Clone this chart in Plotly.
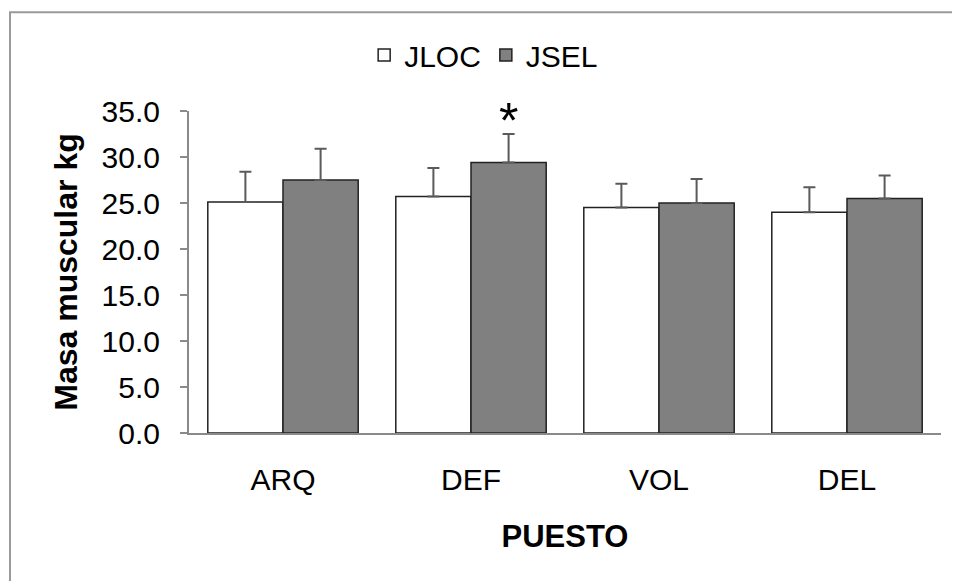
import plotly.graph_objects as go

categories = ["ARQ", "DEF", "VOL", "DEL"]
jloc_values = [25.1, 25.7, 24.5, 24.0]
jloc_errors = [3.3, 3.1, 2.6, 2.7]
jsel_values = [27.5, 29.4, 25.0, 25.5]
jsel_errors = [3.4, 3.1, 2.6, 2.5]
jsel_marks = ["", "*", "", ""]
y_ticks = [0, 5, 10, 15, 20, 25, 30, 35]

FONT = "Liberation Sans, Arial, sans-serif"

fig = go.Figure()
fig.add_trace(go.Bar(
    name="JLOC", x=categories, y=jloc_values,
    marker=dict(color="white", line=dict(color="#222222", width=1.5)),
    error_y=dict(type="data", array=jloc_errors, arrayminus=[0]*4, symmetric=False,
                 color="#5a5a5a", thickness=2, width=6),
))
fig.add_trace(go.Bar(
    name="JSEL", x=categories, y=jsel_values,
    marker=dict(color="#808080", line=dict(color="#222222", width=1.5)),
    error_y=dict(type="data", array=jsel_errors, arrayminus=[0]*4, symmetric=False,
                 color="#5a5a5a", thickness=2, width=6),
))

for i, (m, v, e) in enumerate(zip(jsel_marks, jsel_values, jsel_errors)):
    if m:
        fig.add_annotation(x=i + 0.2, y=v + e, xref="x", yref="y", text=m,
                           showarrow=False, yanchor="bottom", yshift=-17,
                           font=dict(family=FONT, size=50, color="black"))

fig.add_shape(type="rect", xref="paper", yref="paper",
              x0=-0.238, x1=1.0226, y0=-0.49, y1=1.307,
              line=dict(color="#9a9a9a", width=2), fillcolor="rgba(0,0,0,0)", layer="below")

fig.update_layout(
    width=960, height=581,
    margin=dict(l=181, r=27, t=103, b=156, autoexpand=False),
    paper_bgcolor="white", plot_bgcolor="white",
    barmode="group", bargap=0.2, bargroupgap=0,
    font=dict(family=FONT, color="black"),
    showlegend=True,
    legend=dict(orientation="h", xref="container", yref="container",
                x=0.371, xanchor="left", y=0.919, yanchor="middle",
                font=dict(family=FONT, size=30, color="black"),
                itemwidth=30, tracegroupgap=0, bgcolor="rgba(0,0,0,0)"),
    xaxis=dict(showline=True, linecolor="#8a8a8a", linewidth=2, ticks="",
               automargin=False,
               tickfont=dict(family=FONT, size=30, color="black"),
               ticklabelstandoff=19,
               title=dict(text="<b>PUESTO</b>", font=dict(family=FONT, size=31, color="black"),
                          standoff=30),
               showgrid=False, zeroline=False),
    yaxis=dict(range=[0, 35], tickvals=y_ticks, tickformat=".1f",
               automargin=False,
               showline=True, linecolor="#8a8a8a", linewidth=2,
               ticks="outside", ticklen=7, tickcolor="#8a8a8a", tickwidth=1.5,
               tickfont=dict(family=FONT, size=30, color="black"),
               ticklabelstandoff=14,
               title=dict(text="<b>Masa muscular kg</b>", font=dict(family=FONT, size=32, color="black"),
                          standoff=14),
               showgrid=False, zeroline=False),
)

fig.write_html("out.html")
